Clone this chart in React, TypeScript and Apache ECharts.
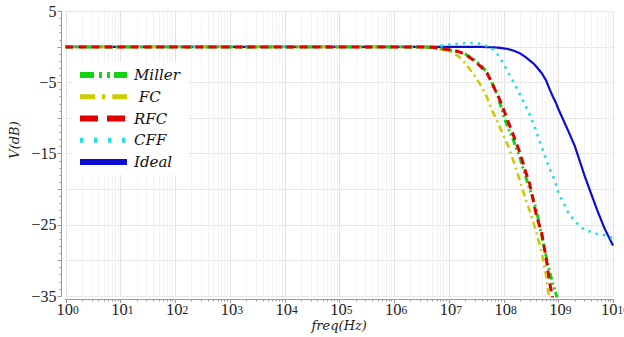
import React, { useEffect, useRef } from 'react';
import * as echarts from 'echarts';

// frequency grid (Hz)
const FREQ = [1, 10, 100, 1e3, 1e4, 1e5, 1e6, 2e6, 5e6, 1e7, 1.5e7, 2e7, 3e7, 4e7, 5e7, 6e7, 7e7, 8e7,
  1e8, 1.2e8, 1.5e8, 2e8, 2.5e8, 3e8, 3.5e8, 4e8, 5e8, 6e8, 7e8, 8e8, 9e8, 1e9, 1.5e9, 2e9, 3e9, 5e9, 7e9, 1e10];

// gain values (dB)
const MILLER = [0, 0, 0, 0, 0, 0, 0, 0, -0.05, -0.4, -0.65, -1.0, -1.9, -2.7, -3.6, -4.8, -6.0, -7.0,
  -9.6, -11.3, -13.0, -15.6, -18.1, -19.9, -21.4, -23.0, -26.5, -29.4, -31.7, -33.3, -34.6, -35.8, null, null, null, null, null, null];
const FC = [0, 0, 0, 0, 0, 0, 0, -0.02, -0.1, -0.55, -1.3, -2.3, -4.1, -5.6, -7.1, -8.7, -9.8, -10.7,
  -12.5, -13.8, -15.9, -18.8, -21.3, -23.0, -24.6, -26.1, -28.9, -32.1, -35.8, null, null, null, null, null, null, null, null, null];
const RFC = [0, 0, 0, 0, 0, 0, 0, 0, -0.05, -0.4, -0.65, -1.05, -2.0, -2.9, -3.7, -4.9, -6.0, -6.9,
  -8.75, -10.4, -12.3, -14.9, -17.4, -19.2, -21.6, -23.7, -26.2, -29.7, -33.2, -35.6, null, null, null, null, null, null, null, null];
const CFF = [0, 0, 0, 0, 0, 0, 0, 0, 0.05, 0.3, 0.45, 0.55, 0.55, 0.4, 0.1, -0.15, -0.7, -1.15,
  -2.4, -3.5, -4.85, -6.7, -8.2, -9.5, -10.7, -12.0, -14.1, -15.8, -17.2, -18.1, -19.2, -20.4, -23.2, -24.5, -25.7, -26.25, -26.45, -26.9];
const IDEAL = [0, 0, 0, 0, 0, 0, 0, 0, 0, 0, 0, 0, 0, 0, -0.03, -0.05, -0.08, -0.1,
  -0.2, -0.3, -0.5, -0.9, -1.4, -1.9, -2.3, -2.8, -3.7, -4.7, -6.0, -7.0, -7.8, -8.7, -11.7, -13.9, -18.0, -22.7, -25.5, -27.9];

// x tick positions (decades)
const DECADES = [1, 10, 100, 1e3, 1e4, 1e5, 1e6, 1e7, 1e8, 1e9, 1e10];
const MINOR_MULT = [2, 3, 4, 5, 6, 7, 8, 9];

const COLORS: Record<string, string> = { Miller: '#12d412', FC: '#cccc00', RFC: '#e00000', CFF: '#22dede', Ideal: '#0c0cd2' };

const Y_MIN = -35;
const Y_MAX = 5;
const X_MIN = 1;
const X_MAX = 1e10;

const LABEL_FONT = 'Liberation Serif';
const ITALIC_FONT = 'DejaVu Serif';

const RICH = {
  b: { fontFamily: LABEL_FONT, fontSize: 16.5, fill: '#222', color: '#222', lineHeight: 12 },
  s: { fontFamily: LABEL_FONT, fontSize: 11.5, fill: '#222', color: '#222', verticalAlign: 'top', lineHeight: 8 },
};

function pairs(vals: (number | null)[]) {
  return FREQ.map((f, i) => [f, vals[i]]);
}

export default function App() {
  const ref = useRef<HTMLDivElement>(null);
  useEffect(() => {
    const chart = echarts.init(ref.current!, null, { renderer: 'svg' });
    const minorFreqs: number[] = [];
    DECADES.slice(0, -1).forEach((d) => MINOR_MULT.forEach((k) => minorFreqs.push(k * d)));
    const mk = (name: string, vals: (number | null)[], width: number, type: any) => ({
      name,
      type: 'line',
      data: pairs(vals),
      showSymbol: false,
      symbol: 'none',
      connectNulls: false,
      clip: true,
      color: COLORS[name],
      lineStyle: { width, type, color: COLORS[name], cap: 'butt' },
      silent: true,
      z: 3,
    });
    const option: any = {
      animation: false,
      grid: { left: 65.5, right: 11, top: 11.3, bottom: 41, containLabel: false, outerBoundsMode: 'none' },
      xAxis: {
        type: 'log',
        logBase: 10,
        min: X_MIN,
        max: X_MAX,
        offset: 3,
        axisLine: { show: true, onZero: false, lineStyle: { color: '#999', width: 1 } },
        axisTick: { show: false },
        axisLabel: { show: false },
        splitLine: { show: false },
        name: 'freq(Hz)',
        nameLocation: 'middle',
        nameGap: 20,
        nameTextStyle: { fontFamily: ITALIC_FONT, fontStyle: 'italic', fontSize: 13, color: '#222', verticalAlign: 'top', lineHeight: 13 },
      },
      yAxis: {
        type: 'value',
        min: Y_MIN,
        max: Y_MAX,
        interval: 5,
        offset: 4,
        axisLine: { show: true, onZero: false, lineStyle: { color: '#999', width: 1 } },
        axisTick: { show: true, length: 4, lineStyle: { color: '#999' } },
        minorTick: { show: true, splitNumber: 5, length: 2, lineStyle: { color: '#999' } },
        axisLabel: {
          margin: 5,
          fontFamily: LABEL_FONT,
          fontSize: 16,
          color: '#222',
          formatter: (v: number) => ((v - Y_MIN) % 10 === 0 ? String(v).replace('-', '\u2212') : ''),
        },
        splitLine: { show: true, lineStyle: { color: '#e6e6e6' } },
      },
      graphic: [
        {
          type: 'text',
          x: 14,
          y: 140,
          rotation: Math.PI / 2,
          style: {
            text: 'V(dB)',
            fontFamily: ITALIC_FONT,
            fontStyle: 'italic',
            fontSize: 13,
            fill: '#222',
            align: 'center',
            verticalAlign: 'middle',
          },
        },
      ],
      legend: {
        orient: 'vertical',
        left: 72,
        top: 62,
        padding: [5, 8, 5, 5],
        backgroundColor: '#ffffff',
        itemWidth: 47,
        itemHeight: 6,
        itemGap: 5.75,
        selectedMode: false,
        z: 10,
        itemStyle: { opacity: 0, color: 'rgba(0,0,0,0)', borderWidth: 0 },
        formatter: (n: string) => (n === 'FC' ? ' FC' : n),
        textStyle: { fontFamily: ITALIC_FONT, fontStyle: 'italic', fontSize: 15, color: '#111', lineHeight: 16, padding: [0, 0, 0, 2] },
        data: [
          { name: 'Miller', lineStyle: { width: 6, type: [14, 5, 3, 5, 3, 4] } },
          { name: 'FC', lineStyle: { width: 5, type: [15, 7, 3.3, 7] } },
          { name: 'RFC', lineStyle: { width: 6, type: [18, 9] } },
          { name: 'CFF', lineStyle: { width: 5, type: [3.5, 10.5] } },
          { name: 'Ideal', lineStyle: { width: 6, type: 'solid' } },
        ],
      },
      series: [
        {
          type: 'custom',
          name: 'minor',
          silent: true,
          clip: false,
          z: 1,
          data: minorFreqs.map((f) => [f, Y_MIN]),
          encode: { x: 0, y: 1 },
          renderItem: (params: any, api: any) => {
            const f = api.value(0);
            const top = api.coord([f, Y_MAX]);
            const bot = api.coord([f, Y_MIN]);
            const x = Math.round(top[0]) + 0.5;
            return {
              type: 'group',
              children: [
                { type: 'line', shape: { x1: x, y1: top[1], x2: x, y2: bot[1] }, style: { stroke: '#f2f2f2', lineWidth: 1 } },
                { type: 'line', shape: { x1: x, y1: bot[1] + 3, x2: x, y2: bot[1] + 5.5 }, style: { stroke: '#999', lineWidth: 1 } },
              ],
            };
          },
        },
        {
          type: 'custom',
          name: 'decades',
          silent: true,
          clip: false,
          z: 1,
          data: DECADES.map((f) => [f, Y_MIN]),
          encode: { x: 0, y: 1 },
          renderItem: (params: any, api: any) => {
            const f = api.value(0);
            const top = api.coord([f, Y_MAX]);
            const bot = api.coord([f, Y_MIN]);
            const x = Math.round(top[0]) + 0.5;
            const n = Math.round(Math.log10(f));
            return {
              type: 'group',
              children: [
                { type: 'line', shape: { x1: x, y1: top[1], x2: x, y2: bot[1] }, style: { stroke: '#e2e2e2', lineWidth: 1 } },
                { type: 'line', shape: { x1: x, y1: bot[1] + 3, x2: x, y2: bot[1] + 7 }, style: { stroke: '#999', lineWidth: 1 } },
                {
                  type: 'text',
                  x: top[0] + 2,
                  y: bot[1] + 7.5,
                  style: {
                    text: `{b|10}{s|${n}}`,
                    rich: RICH,
                    fontFamily: LABEL_FONT,
                    fontSize: 16.5,
                    align: 'center',
                    verticalAlign: 'top',
                    fill: '#222',
                  },
                },
              ],
            };
          },
        },
        mk('Ideal', IDEAL, 2.2, 'solid'),
        mk('CFF', CFF, 2.6, [2.5, 5]),
        mk('FC', FC, 2.6, [7, 4, 2, 4]),
        mk('Miller', MILLER, 3, [7, 3, 2, 3, 2, 3]),
        mk('RFC', RFC, 3, [8, 5]),
      ],
    };
    chart.setOption(option);
    return () => chart.dispose();
  }, []);
  return <div ref={ref} style={{ position: 'absolute', left: 0, top: 0, width: 624, height: 337 }} />;
}
